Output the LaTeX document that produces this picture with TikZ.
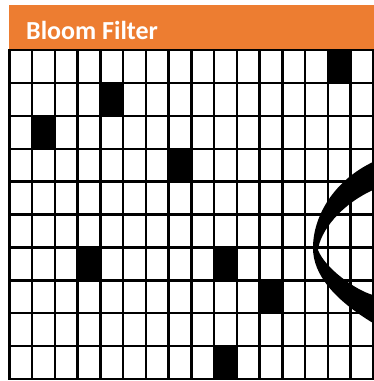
\documentclass[tikz,border=0pt]{standalone}
\usepackage{fontspec}
\setmainfont{Carlito}
\usepackage{xcolor}
\usetikzlibrary{positioning}
\definecolor{accent}{HTML}{ED7D31}
\definecolor{ink}{HTML}{000000}
\newcommand{\cellw}{22.75}
\newcommand{\cellh}{32.9}

\begin{document}
\begin{tikzpicture}[
  x=1pt, y=-1pt,
  hdr/.style    = {fill=accent, draw=none},
  title/.style  = {font=\bfseries\fontsize{26}{28}\selectfont, text=white,
                   anchor=base west, inner sep=0pt},
  gridln/.style = {draw=ink, line width=2.4pt, line cap=rect},
  bitset/.style = {fill=ink},
  lens/.style   = {fill=ink},
]
\useasboundingbox (0,0) rectangle (373,381);

% ---- header -----------------------------------------------------------
\fill[hdr] (9.3,5) rectangle (373.5,50);
\node[title] (title) at (26,39.3) {Bloom Filter};

% ---- set bits (col,row) -----------------------------------------------
\foreach \c/\r in {14/0, 4/1, 1/2, 7/3, 3/6, 9/6, 11/7, 9/9}
  \fill[bitset] (9.3+\c*\cellw, 50+\r*\cellh) rectangle ++(\cellw, \cellh);

% ---- bit array grid ---------------------------------------------------
\foreach \c in {0,...,16}
  \draw[gridln] (9.3+\c*\cellw, 50) -- (9.3+\c*\cellw, 379);
\foreach \r in {0,...,10}
  \draw[gridln] (9.3, 50+\r*\cellh) -- (373.3, 50+\r*\cellh);

% ---- lens sweeping in from the right ----------------------------------
\fill[lens] (373,162) .. controls (335,180) and (313,215) .. (313,248)
  .. controls (313,275) and (335,300) .. (373,323)
  -- (373,295) .. controls (355,290) and (325,268) .. (318,250)
  .. controls (320,232) and (340,205) .. (373,190) -- cycle;

\end{tikzpicture}
\end{document}
